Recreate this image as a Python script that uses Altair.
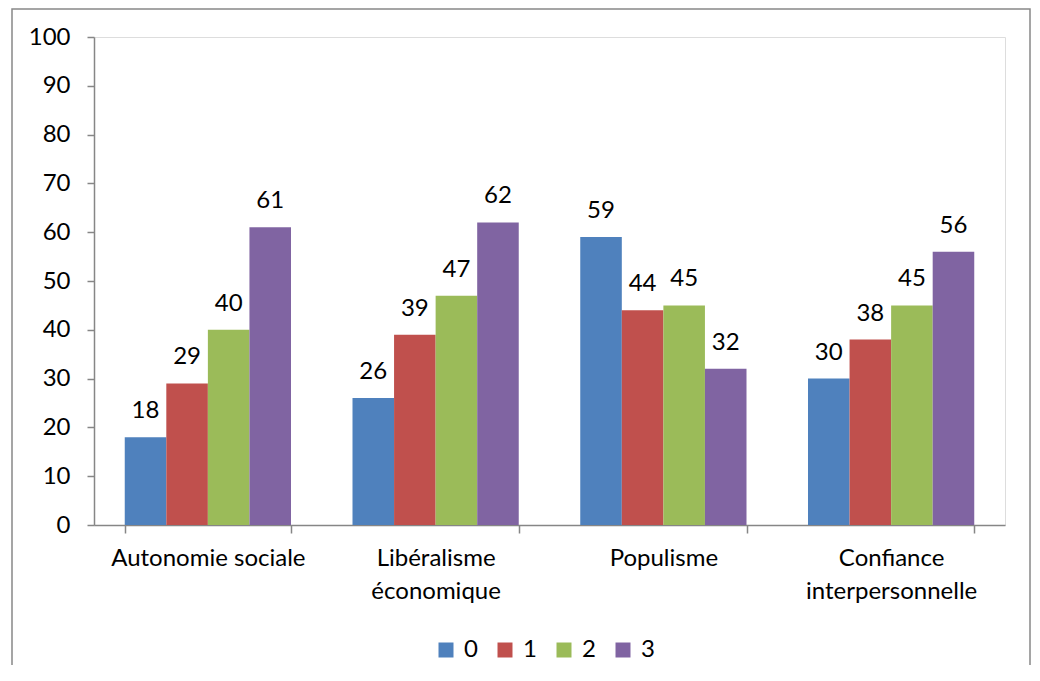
import altair as alt
import pandas as pd

categories = ["Autonomie sociale", "Libéralisme|économique", "Populisme", "Confiance|interpersonnelle"]
series = ["0", "1", "2", "3"]
values_0 = [18, 26, 59, 30]
values_1 = [29, 39, 44, 38]
values_2 = [40, 47, 45, 45]
values_3 = [61, 62, 32, 56]
colors = ["#4F81BD", "#C0504D", "#9BBB59", "#8064A2"]
y_ticks = [0, 10, 20, 30, 40, 50, 60, 70, 80, 90, 100]

rows = []
for s, vals in zip(series, [values_0, values_1, values_2, values_3]):
    for c, v in zip(categories, vals):
        rows.append({"cat": c, "serie": s, "val": v})
df = pd.DataFrame(rows)

FONT = "Lato"
FS = 24
AX = "#868686"

x_enc = alt.X("cat:N", sort=categories, title=None,
              scale=alt.Scale(paddingInner=0.27, paddingOuter=0.135),
              axis=alt.Axis(labelExpr="isValid(datum.value) ? split(datum.value, '|') : ''",
                            labelAngle=0, labelLimit=400,
                            tickBand="extent", tickSize=8, labelPadding=13,
                            labelFontSize=FS, labelLineHeight=33, labelFont=FONT,
                            labelColor="#000", domainColor=AX, tickColor=AX,
                            domainWidth=1.5, tickWidth=1.5))
xo_enc = alt.XOffset("serie:N", sort=series, scale=alt.Scale(paddingInner=0, paddingOuter=0))
y_enc = alt.Y("val:Q", title=None,
              scale=alt.Scale(domain=[0, 100], nice=False),
              axis=alt.Axis(values=y_ticks, grid=False, tickSize=7, labelPadding=17,
                            labelFontSize=FS, labelFont=FONT, labelColor="#000",
                            domainColor=AX, tickColor=AX, domainWidth=1.5, tickWidth=1.5))

bars = alt.Chart(df).mark_bar().encode(
    x=x_enc, xOffset=xo_enc, y=y_enc,
    color=alt.Color("serie:N", sort=series, title=None,
                    scale=alt.Scale(domain=series, range=colors),
                    legend=alt.Legend(orient="none", legendX=340, legendY=601,
                                      direction="horizontal", symbolType="square",
                                      symbolSize=225, symbolStrokeWidth=0,
                                      labelFontSize=FS, labelFont=FONT, labelColor="#000",
                                      labelOffset=6, columnPadding=15)),
)

labels = alt.Chart(df).mark_text(baseline="alphabetic", dy=-19, fontSize=FS, font=FONT,
                                 color="#000").encode(
    x=alt.X("cat:N", sort=categories), xOffset=alt.XOffset("serie:N", sort=series),
    y="val:Q", text="val:Q")

frame = alt.Chart(pd.DataFrame({"a": [0]})).mark_rect(
    fill=None, stroke="#888888", strokeWidth=1.5, clip=False).encode(
    x=alt.value(-82), x2=alt.value(936), y=alt.value(-28), y2=alt.value(700))

chart = alt.layer(frame, bars, labels).properties(
    width=911, height=488,
    autosize=alt.AutoSizeParams(type="none"),
    padding={"left": 86, "top": 29, "right": 27, "bottom": 140},
).configure_view(stroke=None).configure(background="white")

chart.save("out.html", embed_options={"renderer": "svg", "actions": False})
